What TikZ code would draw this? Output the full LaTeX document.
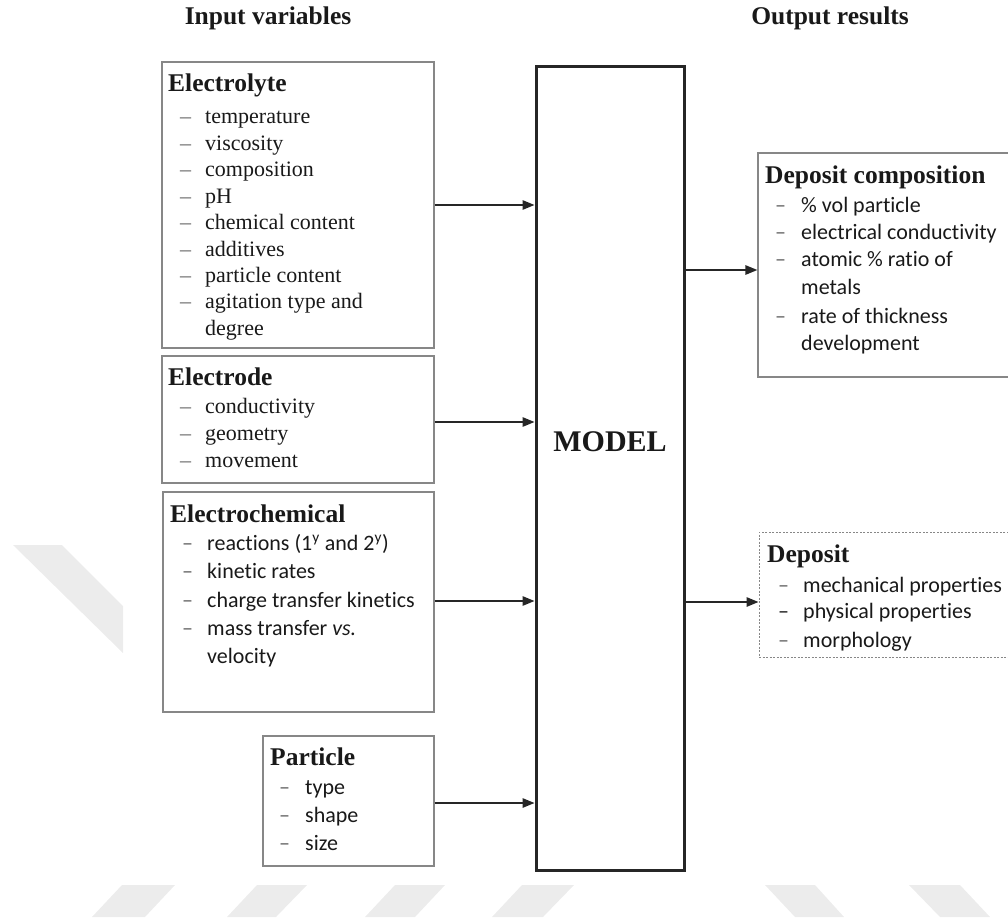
\documentclass[tikz,border=0pt]{standalone}
\usepackage{fontspec}
\setmainfont{Liberation Serif}
\newfontfamily\calib[Ligatures={NoCommon}]{Carlito}
\usetikzlibrary{arrows.meta}
\definecolor{wm}{RGB}{236,236,236}
\definecolor{txt}{RGB}{25,25,25}
\definecolor{bord}{RGB}{135,135,135}
\begin{document}
\begin{tikzpicture}[x=1pt,y=-1pt,
  box/.style={draw=bord,line width=1.3pt,rectangle,inner sep=0pt},
  dbox/.style={draw=bord,line width=1pt,dash pattern=on 2pt off 1.5pt,rectangle,inner sep=0pt},
  mbox/.style={draw=black!85,line width=3pt,rectangle,inner sep=0pt},
  arr/.style={draw=black!85,line width=1.4pt,-{Triangle[length=12pt,width=9.5pt]}},
  head/.style={anchor=base west,inner sep=0pt,text=txt,font=\fontsize{25.5}{28}\selectfont\bfseries},
  titem/.style={anchor=base west,inner sep=0pt,text=txt,font=\fontsize{22}{26}\selectfont},
  citem/.style={anchor=base west,inner sep=0pt,text=txt,font=\calib\fontsize{22}{26}\selectfont},
  tdash/.style={anchor=base west,inner sep=0pt,text=black!60,font=\fontsize{22}{26}\selectfont},
  cdash/.style={anchor=base west,inner sep=0pt,text=black!60,font=\calib\fontsize{22}{26}\selectfont}]
\useasboundingbox (0,0) rectangle (1008,920);
\clip (0,0) rectangle (1008,920);
% watermark stripes
\fill[wm] (92,917) -- (145,917) -- (175,885) -- (122,885) -- cycle;
\fill[wm] (227,917) -- (276,917) -- (307,885) -- (257,885) -- cycle;
\fill[wm] (365,917) -- (415,917) -- (445,885) -- (395,885) -- cycle;
\fill[wm] (492,917) -- (543,917) -- (574,885) -- (522,885) -- cycle;
\fill[wm] (765,885) -- (815,885) -- (844,917) -- (795,917) -- cycle;
\fill[wm] (909,885) -- (960,885) -- (990,917) -- (940,917) -- cycle;
\fill[wm] (13,545) -- (62,545) -- (123,606) -- (123,653) -- cycle;

% headers
\node[head,anchor=base] (hin) at (268,25) {Input variables};
\node[head,anchor=base] (hout) at (830,25) {Output results};

% boxes
\node[box,minimum width=272pt,minimum height=286pt] (elyte) at (298,205) {};
\node[box,minimum width=272pt,minimum height=127pt] (elode) at (298,419.5) {};
\node[box,minimum width=271pt,minimum height=220pt] (echem) at (298.5,602) {};
\node[box,minimum width=171pt,minimum height=130pt] (part) at (348.5,801) {};
\node[mbox,minimum width=148pt,minimum height=803pt] (model) at (610,468.5) {};
\node[box,minimum width=282pt,minimum height=224pt] (dcomp) at (899,265) {};
\node[dbox,minimum width=281pt,minimum height=125pt] (dep) at (899.5,594.5) {};

\node[anchor=center,inner sep=0pt,text=txt,font=\fontsize{30}{34}\selectfont\bfseries] (mtext) at (model.center |- 0,442) {MODEL};

% Electrolyte
\node[head] (h1) at (168,92) {Electrolyte};
\foreach \y/\t [count=\i] in {124/temperature,150.4/viscosity,176.8/composition,203.2/pH,229.6/chemical content,256/additives,282.4/particle content,308.8/agitation type and}{
  \node[tdash] (e1d\i) at (180,\y) {–};
  \node[titem] (e1t\i) at (205,\y) {\t};
}
\node[titem] (e1t9) at (205,335.2) {degree};

% Electrode
\node[head] (h2) at (168,385) {Electrode};
\foreach \y/\t [count=\i] in {413/conductivity,440/geometry,467/movement}{
  \node[tdash] (e2d\i) at (180,\y) {–};
  \node[titem] (e2t\i) at (205,\y) {\t};
}

% Electrochemical
\node[head] (h3) at (170,522) {Electrochemical};
\node[cdash] (e3d1) at (182,550) {–};
\node[citem] (e3t1) at (207,550) {reactions (1\textsuperscript{y} and 2\textsuperscript{y})};
\node[cdash] (e3d2) at (182,578) {–};
\node[citem] (e3t2) at (207,578) {kinetic rates};
\node[cdash] (e3d3) at (182,607) {–};
\node[citem] (e3t3) at (207,607) {charge transfer kinetics};
\node[cdash] (e3d4) at (182,635) {–};
\node[citem] (e3t4) at (207,635) {mass transfer \textit{vs.}};
\node[citem] (e3t5) at (207,663) {velocity};

% Particle
\node[head] (h4) at (270,765) {Particle};
\foreach \y/\t [count=\i] in {794/type,822/shape,850/size}{
  \node[cdash] (e4d\i) at (279,\y) {–};
  \node[citem] (e4t\i) at (305,\y) {\t};
}

% Deposit composition
\node[head] (h5) at (765,183) {Deposit composition};
\node[cdash] (o1d1) at (775,212) {–};
\node[citem] (o1t1) at (801,212) {\% vol particle};
\node[cdash] (o1d2) at (775,239) {–};
\node[citem] (o1t2) at (801,239) {electrical conductivity};
\node[cdash] (o1d3) at (775,266) {–};
\node[citem] (o1t3) at (801,266) {atomic \% ratio of};
\node[citem] (o1t4) at (801,294) {metals};
\node[cdash] (o1d5) at (775,323) {–};
\node[citem] (o1t5) at (801,323) {rate of thickness};
\node[citem] (o1t6) at (801,350) {development};

% Deposit
\node[head] (h6) at (767,562) {Deposit};
\node[cdash] (o2d1) at (778,592) {–};
\node[citem] (o2t1) at (803,592) {mechanical properties};
\node[cdash,text=txt] (o2d2) at (778,618) {–};
\node[citem] (o2t2) at (803,618) {physical properties};
\node[cdash] (o2d3) at (778,647) {–};
\node[citem] (o2t3) at (803,647) {morphology};

% connectors
\draw[arr] (elyte.east) -- (elyte.east -| model.west);
\draw[arr] (elode.east |- 0,422) -- (model.west |- 0,422);
\draw[arr] (echem.east |- 0,601) -- (model.west |- 0,601);
\draw[arr] (part.east |- 0,803) -- (model.west |- 0,803);
\draw[arr] (model.east |- 0,270) -- (dcomp.west |- 0,270);
\draw[arr] (model.east |- 0,602) -- (dep.west |- 0,602);
\end{tikzpicture}
\end{document}
